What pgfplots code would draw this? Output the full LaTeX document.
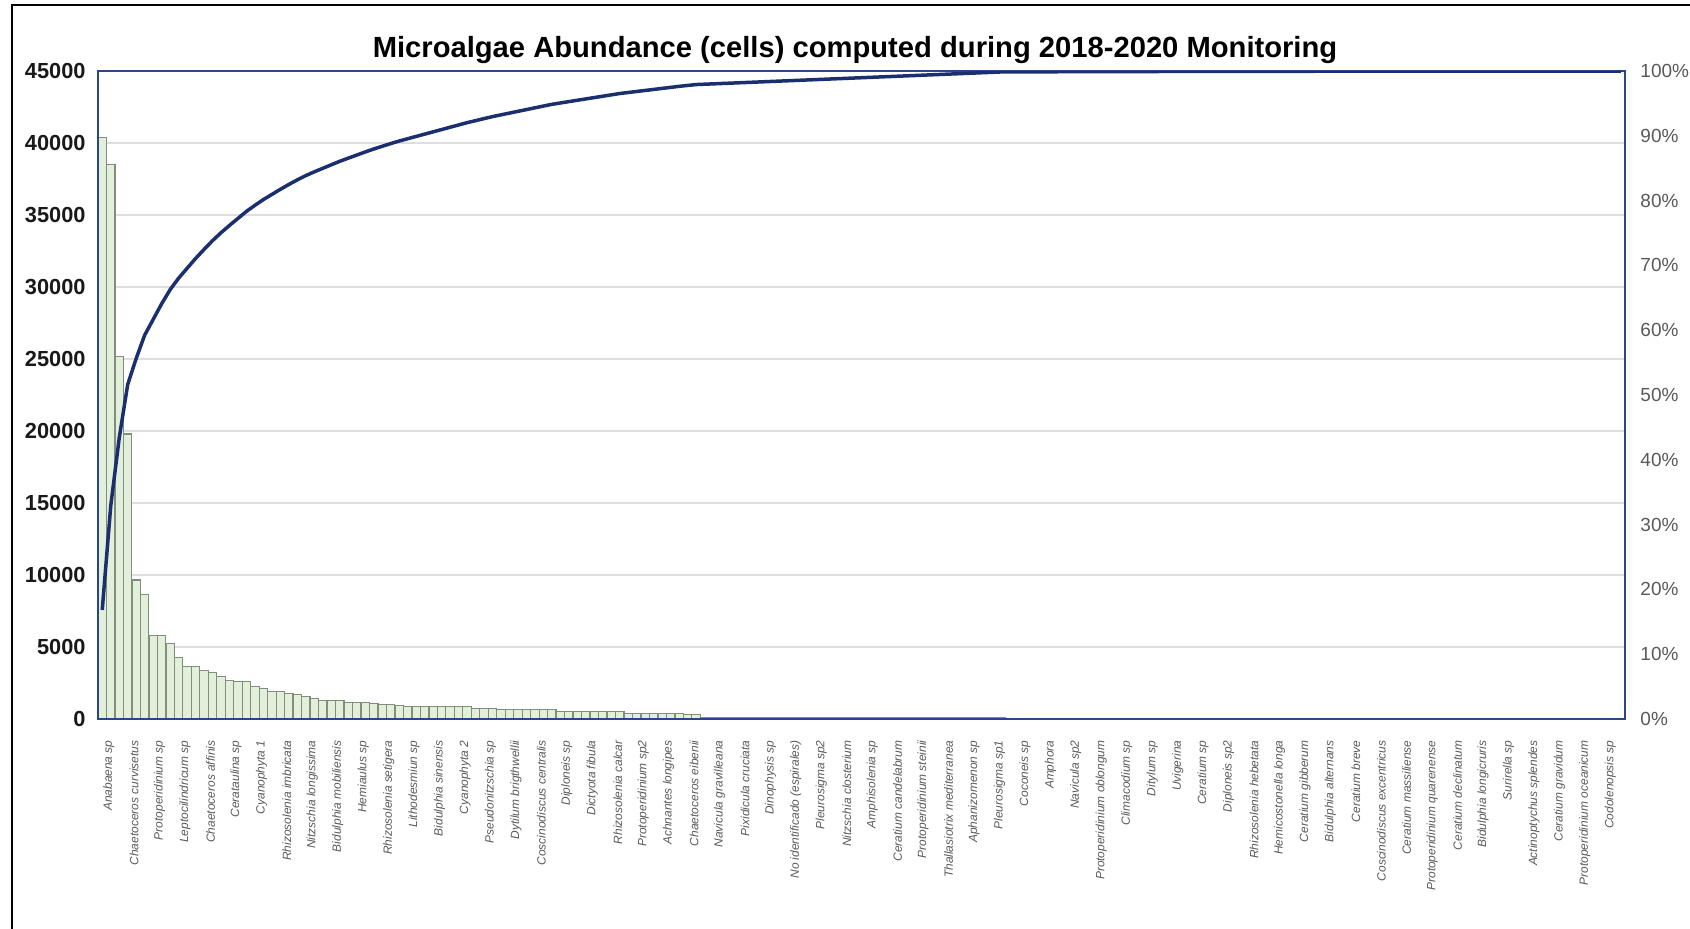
\documentclass[border=0pt]{standalone}
\usepackage{fontspec}
\setmainfont{Liberation Sans}
\usepackage{pgfplots}
\usepackage{pgfplotstable}
\pgfplotsset{compat=1.18}

\definecolor{barfill}{RGB}{226,239,218}
\definecolor{baredge}{RGB}{130,142,124}
\definecolor{frameblue}{RGB}{40,70,140}
\definecolor{paretoline}{RGB}{27,47,110}
\definecolor{gridgray}{RGB}{222,222,222}
\definecolor{labgray}{RGB}{89,89,89}

% idx, cells, cumulative percentage
\pgfplotstableread{
idx cells pct
1 40400 16.830
2 38500 32.868
3 25200 43.366
4 19800 51.614
5 9650 55.634
6 8650 59.238
7 5800 61.654
8 5800 64.070
9 5250 66.257
10 4250 68.027
11 3650 69.548
12 3650 71.068
13 3350 72.464
14 3250 73.818
15 2950 75.047
16 2700 76.172
17 2600 77.255
18 2600 78.338
19 2250 79.275
20 2130 80.163
21 1900 80.954
22 1900 81.746
23 1800 82.496
24 1700 83.204
25 1580 83.862
26 1400 84.445
27 1300 84.987
28 1300 85.528
29 1300 86.070
30 1150 86.549
31 1150 87.028
32 1150 87.507
33 1100 87.965
34 1000 88.382
35 1000 88.798
36 950 89.194
37 850 89.548
38 850 89.902
39 850 90.256
40 850 90.610
41 850 90.964
42 850 91.318
43 850 91.673
44 850 92.027
45 750 92.339
46 750 92.651
47 750 92.964
48 650 93.235
49 650 93.505
50 650 93.776
51 650 94.047
52 650 94.318
53 650 94.588
54 650 94.859
55 500 95.067
56 500 95.276
57 500 95.484
58 500 95.692
59 500 95.901
60 500 96.109
61 500 96.317
62 500 96.525
63 380 96.683
64 380 96.842
65 380 97.000
66 380 97.158
67 380 97.317
68 380 97.475
69 380 97.633
70 330 97.771
71 330 97.908
72 130 97.962
73 130 98.016
74 130 98.071
75 130 98.125
76 130 98.179
77 130 98.233
78 130 98.287
79 130 98.341
80 130 98.396
81 130 98.450
82 130 98.504
83 130 98.558
84 130 98.612
85 130 98.666
86 130 98.721
87 130 98.775
88 130 98.829
89 130 98.883
90 130 98.937
91 130 98.991
92 130 99.046
93 130 99.100
94 130 99.154
95 130 99.208
96 130 99.262
97 130 99.316
98 130 99.371
99 130 99.425
100 130 99.479
101 130 99.533
102 130 99.587
103 130 99.642
104 130 99.696
105 130 99.750
106 130 99.804
107 130 99.858
108 10 99.862
109 10 99.867
110 10 99.871
111 10 99.875
112 10 99.879
113 10 99.883
114 10 99.887
115 10 99.892
116 10 99.896
117 10 99.900
118 10 99.904
119 10 99.908
120 10 99.913
121 5 99.915
122 5 99.917
123 5 99.919
124 5 99.921
125 5 99.923
126 5 99.925
127 5 99.927
128 5 99.929
129 5 99.931
130 5 99.933
131 5 99.935
132 5 99.938
133 5 99.940
134 5 99.942
135 5 99.944
136 5 99.946
137 5 99.948
138 5 99.950
139 5 99.952
140 5 99.954
141 5 99.956
142 5 99.958
143 5 99.960
144 5 99.963
145 5 99.965
146 5 99.967
147 5 99.969
148 5 99.971
149 5 99.973
150 5 99.975
151 2 99.976
152 2 99.977
153 2 99.978
154 2 99.978
155 2 99.979
156 2 99.980
157 2 99.981
158 2 99.982
159 2 99.983
160 2 99.983
161 2 99.984
162 2 99.985
163 2 99.986
164 2 99.987
165 2 99.988
166 2 99.988
167 2 99.989
168 2 99.990
169 2 99.991
170 2 99.992
171 2 99.993
172 2 99.993
173 2 99.994
174 2 99.995
175 2 99.996
176 2 99.997
177 2 99.998
178 2 99.998
179 2 99.999
180 2 100.000
}\algae

\begin{document}
\begin{tikzpicture}
\path[use as bounding box] (0,0) rectangle (16.9cm,9.28cm);
\draw[black, line width=0.2mm] (0.12cm,-0.5cm) -- (0.12cm,9.23cm) -- (17.5cm,9.23cm);

\node[font=\fontsize{8.3}{10}\selectfont\bfseries] at (8.55cm,8.78cm)
  {Microalgae Abundance (cells) computed during 2018-2020 Monitoring};

\begin{axis}[
  at={(0.98cm,2.09cm)}, anchor=south west,
  scale only axis, width=15.27cm, height=6.48cm,
  xmin=0.5, xmax=180.5, ymin=0, ymax=45000,
  axis line style={draw=none},
  ytick={0,5000,...,45000},
  ymajorgrids, grid style={gridgray, line width=0.12mm},
  major tick length=0,
  scaled y ticks=false,
  /pgf/number format/1000 sep={},
  /pgf/number format/assume math mode=true,
  y tick label style={font=\fontsize{6.2}{7}\selectfont\bfseries, text=black!90, xshift=0mm},
  xtick={1,4,...,178},
  xticklabels={Anabaena sp, Chaetoceros curvisetus, Protoperidinium sp,
    Leptocilindricum sp, Chaetoceros affinis, Cerataulina sp, Cyanophyta 1,
    Rhizosolenia imbricata, Nitzschia longissima, Bidulphia mobiliensis,
    Hemiaulus sp, Rhizosolenia setigera, Lithodesmiun sp, Bidulphia sinensis,
    Cyanophyta 2, Pseudonitzschia sp, Dytilum brigthwellii,
    Coscinodiscus centralis, Diploneis sp, Dictyota fibula, Rhizosolenia calcar,
    Protoperidinium sp2, Achnantes longipes, Chaetoceros eibenii,
    Navicula gravilleana, Pixidicula cruciata, Dinophysis sp,
    No identificado (espirales), Pleurosigma sp2, Nitzschia closterium,
    Amphisolenia sp, Ceratium candelabrum, Protoperidinium steinii,
    Thallasiotrix mediterranea, Aphanizomenon  sp, Pleurosigma sp1,
    Coconeis sp, Amphora, Navicula sp2, Protoperidinium oblongum,
    Climacodium sp, Ditylum sp, Uvigerina, Ceratium sp, Diploneis sp2,
    Rhizosolenia hebetata, Hemicostonella longa, Ceratium gibberum,
    Bidulphia alternans, Ceratium breve, Coscinodiscus excentricus,
    Ceratium massiliense, Protoperidinium quarenense, Ceratium declinatum,
    Bidulphia longicruris, Surirella sp, Actinoptychus splendes,
    Ceratium gravidum, Protoperidinium oceanicum, Codolenopsis sp},
  x tick label style={font=\fontsize{3.4}{4}\selectfont\itshape, text=labgray,
    xshift=0.65mm, yshift=-0.9mm, rotate=90, anchor=east},
  ybar, bar width=0.84mm,
]
\addplot[fill=barfill, draw=baredge, line width=0.12mm] table[x=idx, y=cells]{\algae};
\end{axis}

\begin{axis}[
  at={(0.98cm,2.09cm)}, anchor=south west,
  scale only axis, width=15.27cm, height=6.48cm,
  xmin=0.5, xmax=180.5, ymin=0, ymax=100,
  axis line style={frameblue, line width=0.25mm},
  xtick=\empty,
  ytick={0,10,...,100},
  yticklabel pos=right,
  yticklabel={\pgfmathprintnumber{\tick}\%},
  major tick length=0,
  /pgf/number format/assume math mode=true,
  y tick label style={font=\fontsize{5.4}{7}\selectfont, text=labgray, xshift=0.3mm},
]
\addplot[paretoline, line width=0.35mm, line join=round] table[x=idx, y=pct]{\algae};
\end{axis}
\end{tikzpicture}
\end{document}
